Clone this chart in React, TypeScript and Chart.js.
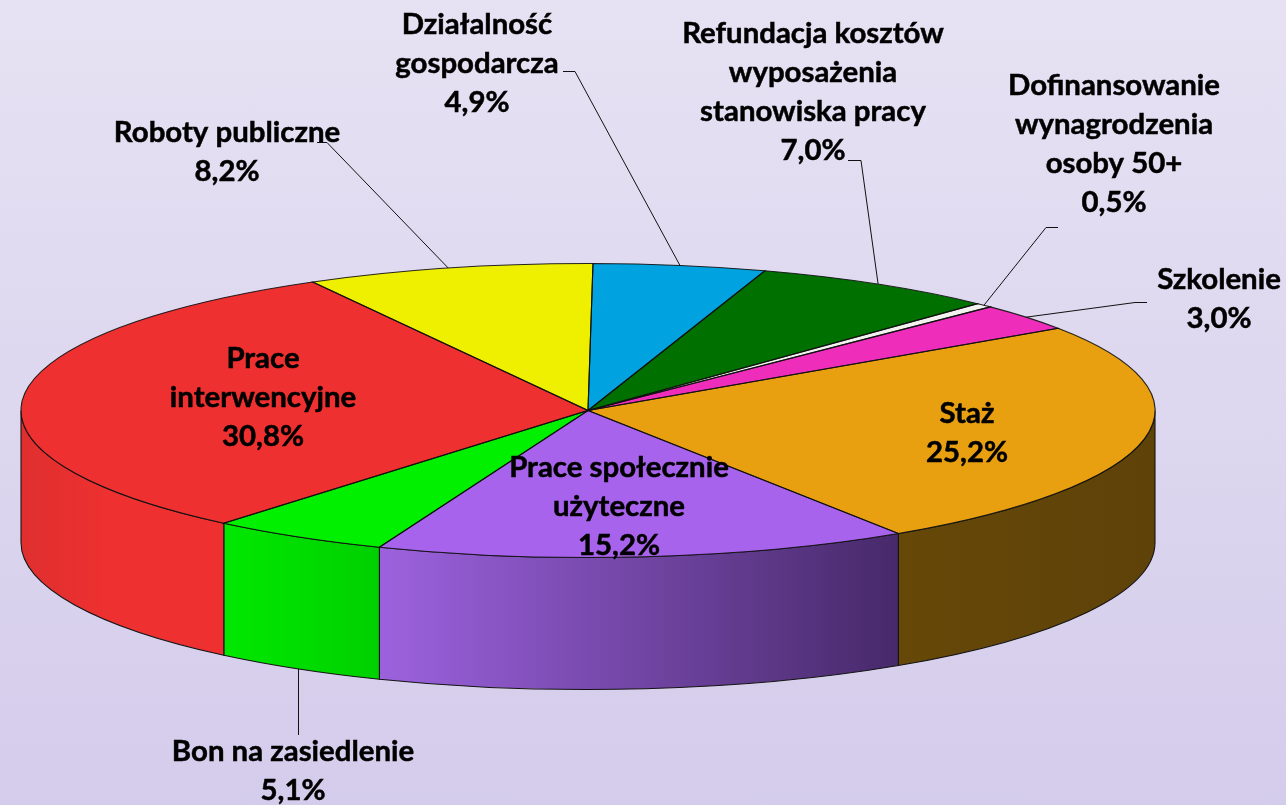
import React, { useEffect, useRef } from "react";
import { Chart, registerables } from "chart.js";

Chart.register(...registerables);

const categories: string[][] = [
  ["Staż"],
  ["Prace społecznie", "użyteczne"],
  ["Bon na zasiedlenie"],
  ["Prace", "interwencyjne"],
  ["Roboty publiczne"],
  ["Działalność", "gospodarcza"],
  ["Refundacja kosztów", "wyposażenia", "stanowiska pracy"],
  ["Dofinansowanie", "wynagrodzenia", "osoby 50+"],
  ["Szkolenie"],
];
const values: number[] = [25.2, 15.2, 5.1, 30.8, 8.2, 4.9, 7.0, 0.5, 3.0];
const topColors: string[] = ["#E8A010", "#A863EC", "#00F000", "#EE3030", "#EFEF00", "#00A3E0", "#007000", "#F2F2EE", "#EE2EBB"];
const wallStart: string[] = ["#664808", "#9C62DE", "#00E800", "#E02F2F", "#EFEF00", "#00A3E0", "#007000", "#F2F2EE", "#EE2EBB"];
const wallEnd: string[] = ["#5E4208", "#47296A", "#00D000", "#EE3030", "#EFEF00", "#00A3E0", "#007000", "#F2F2EE", "#EE2EBB"];

// Layout of the fake 3D projection and the label placement
const CX = 588, CY = 410.5, RX = 567, RY = 147, DEPTH = 132;
const ROTATION = 56;
const LINE_H = 39;
const FONT = "bold 29.4px Lato";
// centre x, first line centre y
const labelPos: [number, number][] = [
  [967, 414], [619, 468], [293, 752], [263, 359], [227, 133],
  [477, 25], [813, 34], [1114, 86], [1219, 280],
];
// polyline from label to slice edge (elbow points), null if no leader
const leaderElbows: ([number, number][] | null)[] = [
  null, null, [[298.5, 735]], null,
  [[317, 142.5], [327, 142.5]],
  [[563, 71.5], [575, 71.5]],
  [[848, 160.5], [861, 160.5]],
  [[1058, 227.5], [1046, 227.5]],
  [[1147, 302.5], [1135, 302.5]],
];

const fmt = (v: number) => v.toFixed(1).replace(".", ",") + "%";

const pie3d = {
  id: "pie3d",
  beforeDatasetsDraw(chart: any) {
    const ctx: CanvasRenderingContext2D = chart.ctx;
    const arcs = chart.getDatasetMeta(0).data;
    arcs.forEach((arc: any, i: number) => {
      const a0 = Math.max(arc.startAngle, 0);
      const a1 = Math.min(arc.endAngle, Math.PI);
      if (a1 <= a0) return;
      const x0 = CX + RX * Math.cos(a1);
      const x1 = CX + RX * Math.cos(a0);
      const g = ctx.createLinearGradient(x0, 0, i === 3 ? x0 + 90 : x1, 0);
      g.addColorStop(0, wallStart[i]);
      g.addColorStop(1, wallEnd[i]);
      ctx.beginPath();
      ctx.ellipse(CX, CY, RX, RY, 0, a0, a1);
      ctx.ellipse(CX, CY + DEPTH, RX, RY, 0, a1, a0, true);
      ctx.closePath();
      ctx.fillStyle = g;
      ctx.fill();
      ctx.strokeStyle = "#141414";
      ctx.lineWidth = 1.1;
      ctx.stroke();
    });
  },
  beforeDatasetDraw(chart: any) {
    const ctx: CanvasRenderingContext2D = chart.ctx;
    const arc = chart.getDatasetMeta(0).data[0];
    ctx.save();
    ctx.translate(CX - arc.x, CY);
    ctx.scale(1, RY / RX);
    ctx.translate(0, -arc.y);
  },
  afterDatasetDraw(chart: any) {
    chart.ctx.restore();
  },
  afterDatasetsDraw(chart: any) {
    const ctx: CanvasRenderingContext2D = chart.ctx;
    const arcs = chart.getDatasetMeta(0).data;
    // slice outlines on the projected top face
    arcs.forEach((arc: any) => {
      ctx.beginPath();
      ctx.moveTo(CX, CY);
      ctx.ellipse(CX, CY, RX, RY, 0, arc.startAngle, arc.endAngle);
      ctx.closePath();
      ctx.strokeStyle = "rgba(15,15,15,0.9)";
      ctx.lineWidth = 1.1;
      ctx.stroke();
    });
    // leader lines
    arcs.forEach((arc: any, i: number) => {
      const elbows = leaderElbows[i];
      if (!elbows) return;
      const mid = (arc.startAngle + arc.endAngle) / 2;
      const onFront = Math.sin(mid) > 0;
      const ex = onFront ? elbows[0][0] : CX + RX * Math.cos(mid);
      const ey = CY + RY * Math.sin(mid) + (onFront ? DEPTH : 0);
      ctx.beginPath();
      elbows.forEach(([x, y], k) => (k === 0 ? ctx.moveTo(x, y) : ctx.lineTo(x, y)));
      ctx.lineTo(ex, ey);
      ctx.strokeStyle = "#111111";
      ctx.lineWidth = 1;
      ctx.stroke();
    });
    // labels
    ctx.fillStyle = "#000000";
    ctx.strokeStyle = "#000000";
    ctx.lineWidth = 0.5;
    ctx.font = FONT;
    ctx.textAlign = "center";
    ctx.textBaseline = "middle";
    categories.forEach((lines, i) => {
      const [x, y] = labelPos[i];
      [...lines, fmt(values[i])].forEach((t, k) => {
        ctx.fillText(t, x, y + k * LINE_H);
        ctx.strokeText(t, x, y + k * LINE_H);
      });
    });
  },
};

export default function App() {
  const ref = useRef<HTMLCanvasElement>(null);
  useEffect(() => {
    const chart = new Chart(ref.current!, {
      type: "pie",
      data: {
        labels: categories.map((c) => c.join(" ")),
        datasets: [{ data: values, backgroundColor: topColors, borderWidth: 0, clip: false } as any],
      },
      options: {
        responsive: false,
        animation: false,
        rotation: ROTATION,
        radius: RX,
        layout: { padding: { right: 1286 - 2 * CX } },
        plugins: { legend: { display: false }, tooltip: { enabled: false } },
      } as any,
      plugins: [pie3d],
    });
    return () => chart.destroy();
  }, []);
  return (
    <div
      style={{
        position: "fixed",
        left: 0,
        top: 0,
        width: 1286,
        height: 805,
        background: "linear-gradient(180deg, #E6E2F3 0%, #D4CCEB 100%)",
      }}
    >
      <canvas ref={ref} width={1286} height={805} style={{ display: "block" }} />
    </div>
  );
}
